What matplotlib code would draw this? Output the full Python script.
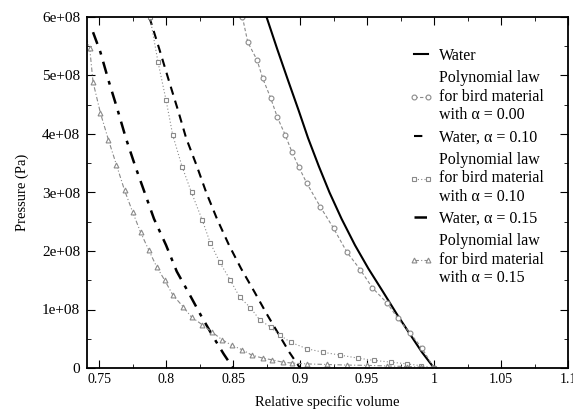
import matplotlib
matplotlib.use('Agg')
import matplotlib.pyplot as plt
from matplotlib.ticker import MultipleLocator, FixedLocator, FixedFormatter

plt.rcParams['font.family'] = ['Liberation Serif', 'DejaVu Serif']
plt.rcParams['font.size'] = 10

# water, alpha = 0
water_v = [0.875, 0.883, 0.891, 0.899, 0.906, 0.914, 0.922, 0.931, 0.941, 0.951,
           0.962, 0.972, 0.982, 0.991, 1.0]
water_p = [6.00, 5.45, 4.92, 4.40, 3.93, 3.45, 3.00, 2.55, 2.10, 1.70,
           1.30, 0.93, 0.58, 0.27, 0.0]

# polynomial law, alpha = 0.00
poly0_v = [0.857, 0.861, 0.868, 0.872, 0.878, 0.883, 0.889, 0.894, 0.899, 0.905, 0.915,
           0.925, 0.935, 0.945, 0.954, 0.965, 0.973, 0.982, 0.991, 1.0]
poly0_p = [6.00, 5.57, 5.26, 4.96, 4.62, 4.29, 3.98, 3.69, 3.44, 3.16, 2.76,
           2.39, 1.98, 1.68, 1.37, 1.11, 0.85, 0.60, 0.34, 0.0]

# water, alpha = 0.10
water10_v = [0.7875, 0.795, 0.802, 0.809, 0.815, 0.823, 0.830, 0.838, 0.847, 0.856,
             0.866, 0.875, 0.884, 0.892, 0.900]
water10_p = [6.00, 5.45, 4.92, 4.40, 3.93, 3.45, 3.00, 2.55, 2.10, 1.70,
             1.30, 0.93, 0.58, 0.27, 0.0]

# polynomial law, alpha = 0.10
poly10_v = [0.788, 0.794, 0.800, 0.805, 0.812, 0.819, 0.827, 0.833, 0.840, 0.848, 0.855,
            0.863, 0.870, 0.878, 0.885, 0.893, 0.905, 0.917, 0.930, 0.943, 0.955,
            0.968, 0.980, 0.990, 1.0]
poly10_p = [6.00, 5.23, 4.58, 3.98, 3.44, 3.00, 2.53, 2.14, 1.81, 1.50, 1.21,
            1.03, 0.82, 0.70, 0.56, 0.44, 0.33, 0.27, 0.22, 0.17, 0.13,
            0.10, 0.07, 0.04, 0.0]

# water, alpha = 0.15
water15_v = [0.7455, 0.751, 0.757, 0.764, 0.770, 0.777, 0.784, 0.791, 0.800, 0.808,
             0.817, 0.826, 0.835, 0.843, 0.850]
water15_p = [5.74, 5.40, 4.92, 4.40, 3.93, 3.45, 3.00, 2.55, 2.10, 1.65,
             1.28, 0.90, 0.54, 0.24, 0.0]

# polynomial law, alpha = 0.15
poly15_v = [0.738, 0.743, 0.7455, 0.751, 0.757, 0.763, 0.769, 0.775, 0.781, 0.787, 0.793,
            0.799, 0.805, 0.813, 0.819, 0.827, 0.834, 0.842, 0.849, 0.857, 0.864,
            0.872, 0.879, 0.887, 0.894, 0.905, 0.920, 0.935, 0.950, 0.965, 0.980,
            0.990, 1.0]
poly15_p = [5.80, 5.47, 4.89, 4.36, 3.90, 3.47, 3.04, 2.67, 2.32, 2.02, 1.73,
            1.50, 1.25, 1.04, 0.87, 0.74, 0.62, 0.48, 0.39, 0.31, 0.22,
            0.17, 0.14, 0.10, 0.085, 0.07, 0.06, 0.05, 0.045, 0.035, 0.025,
            0.015, 0.0]

x_ticks = [0.75, 0.8, 0.85, 0.9, 0.95, 1.0, 1.05, 1.1]
x_labels = ['0.75', '0.8', '0.85', '0.9', '0.95', '1', '1.05', '1.1']
y_ticks = [0, 1e8, 2e8, 3e8, 4e8, 5e8, 6e8]
y_labels = ['0', '1e+08', '2e+08', '3e+08', '4e+08', '5e+08', '6e+08']


def scale(p):
    return [v * 1e8 for v in p]


fig = plt.figure(figsize=(5.73, 4.11), dpi=100)
ax = fig.add_axes([87 / 573, 43 / 411, 481 / 573, 351 / 411])

gray = '#8a8a8a'
ax.plot(water_v, scale(water_p), color='black', lw=1.5, label='Water')
ax.plot(poly0_v, scale(poly0_p), color=gray, lw=0.8, ls=(0, (3, 2)), marker='o',
        ms=3.5, mfc='white', mec=gray, mew=0.8,
        label='Polynomial law\nfor bird material\nwith α = 0.00')
ax.plot(water10_v, scale(water10_p), color='black', lw=1.5, ls=(0, (4, 3)),
        label='Water, α = 0.10')
ax.plot(poly10_v, scale(poly10_p), color=gray, lw=0.8, ls=(0, (1, 2)), marker='s',
        ms=3.2, mfc='white', mec=gray, mew=0.8,
        label='Polynomial law\nfor bird material\nwith α = 0.10')
ax.plot(water15_v, scale(water15_p), color='black', lw=1.8, ls=(0, (5, 3, 1.5, 3)),
        label='Water, α = 0.15')
ax.plot(poly15_v, scale(poly15_p), color=gray, lw=0.8, ls=(0, (4, 2, 1, 2)), marker='^',
        ms=3.5, mfc='white', mec=gray, mew=0.8,
        label='Polynomial law\nfor bird material\nwith α = 0.15')

ax.set_xlim(0.741, 1.1)
ax.set_ylim(0, 6e8)
ax.xaxis.set_major_locator(FixedLocator(x_ticks))
ax.xaxis.set_major_formatter(FixedFormatter(x_labels))
ax.xaxis.set_minor_locator(MultipleLocator(0.025))
ax.yaxis.set_major_locator(FixedLocator(y_ticks))
ax.yaxis.set_major_formatter(FixedFormatter(y_labels))
ax.yaxis.set_minor_locator(MultipleLocator(0.5e8))
ax.tick_params(which='both', direction='in', top=True, right=True)
ax.tick_params(which='major', length=6, width=0.8)
ax.tick_params(which='minor', length=3, width=0.6)
ax.tick_params(axis='y', labelsize=11, pad=5)
for s in ax.spines.values():
    s.set_linewidth(1.3)

ax.set_xlabel('Relative specific volume', fontsize=10.5, labelpad=7)
ax.set_ylabel('Pressure (Pa)', fontsize=10.5, labelpad=9)

ax.legend(loc='upper left', bbox_to_anchor=(0.64, 0.953), frameon=False,
          numpoints=2, handlelength=1.5, handletextpad=0.35, labelspacing=0.4,
          fontsize=11.5)

fig.savefig('out.png', dpi=100)
